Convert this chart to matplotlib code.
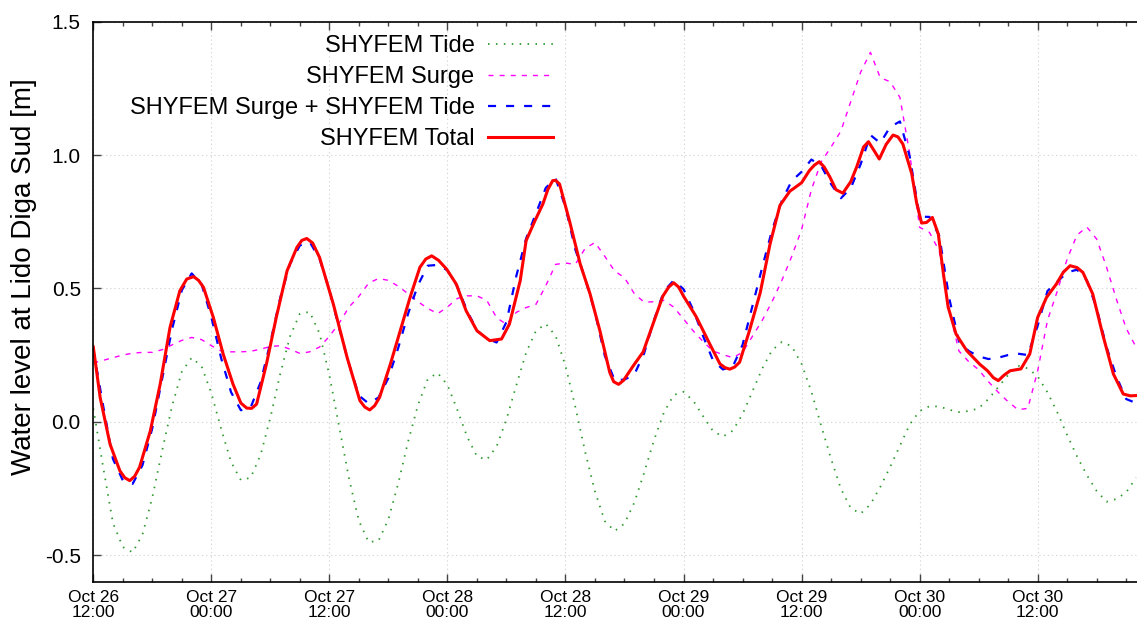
import pandas as pd
import matplotlib
matplotlib.use("Agg")
import matplotlib.pyplot as plt
import matplotlib.dates as mdates
from matplotlib.ticker import MultipleLocator, FormatStrFormatter

plt.rcParams['font.family'] = ['Liberation Sans', 'DejaVu Sans']
plt.rcParams['axes.unicode_minus'] = False
plt.rcParams['lines.scale_dashes'] = False

start = pd.Timestamp('2018-10-26 12:00')

# hourly values, starting at Oct 26 12:00
tide = [0.05, -0.17, -0.38, -0.47, -0.49, -0.423, -0.284, -0.109, 0.058, 0.188,
        0.24, 0.208, 0.107, -0.027, -0.151, -0.219, -0.21, -0.125, 0.015, 0.179,
        0.32, 0.405, 0.412, 0.331, 0.174, -0.02, -0.214, -0.372, -0.452, -0.446,
        -0.366, -0.231, -0.075, 0.062, 0.16, 0.183, 0.138, 0.045, -0.056, -0.13,
        -0.143, -0.093, 0.009, 0.136, 0.259, 0.341, 0.367, 0.322, 0.21, 0.056,
        -0.113, -0.262, -0.373, -0.41, -0.382, -0.303, -0.191, -0.069, 0.034, 0.1,
        0.112, 0.078, 0.02, -0.035, -0.056, -0.034, 0.028, 0.113, 0.199, 0.268,
        0.299, 0.283, 0.217, 0.113, -0.016, -0.139, -0.252, -0.324, -0.345, -0.31,
        -0.245, -0.17, -0.09, -0.01, 0.04, 0.058, 0.057, 0.045, 0.036, 0.04,
        0.05, 0.085, 0.13, 0.175, 0.21, 0.2, 0.17, 0.11, 0.035, -0.05,
        -0.13, -0.2, -0.26, -0.30, -0.29, -0.265, -0.21]

surge = [0.22, 0.23, 0.24, 0.25, 0.257, 0.26, 0.26, 0.27, 0.288, 0.305,
         0.316, 0.308, 0.285, 0.265, 0.262, 0.262, 0.264, 0.272, 0.282, 0.285,
         0.272, 0.256, 0.262, 0.28, 0.32, 0.37, 0.43, 0.47, 0.52, 0.537,
         0.53, 0.508, 0.48, 0.45, 0.425, 0.405, 0.43, 0.462, 0.472, 0.472,
         0.455, 0.39, 0.365, 0.41, 0.428, 0.44, 0.51, 0.59, 0.595, 0.59,
         0.65, 0.672, 0.62, 0.565, 0.54, 0.48, 0.448, 0.45, 0.455, 0.43,
         0.385, 0.34, 0.3, 0.265, 0.252, 0.24, 0.26, 0.32, 0.38, 0.45,
         0.53, 0.62, 0.72, 0.87, 0.975, 1.03, 1.09, 1.2, 1.31, 1.385,
         1.29, 1.275, 1.216, 1.004, 0.729, 0.71, 0.64, 0.42, 0.265, 0.225,
         0.195, 0.15, 0.11, 0.075, 0.045, 0.05, 0.19, 0.38, 0.49, 0.61,
         0.7, 0.73, 0.685, 0.58, 0.46, 0.35, 0.28]

# total water level, irregular sampling (hours since Oct 26 12:00)
total_hours = [0, 0.7, 1.7, 2.7, 3.2, 3.7, 4.2, 4.7, 5.8, 6.8, 7.8, 8.8, 9.5, 10.2, 10.7,
               11.2, 12.2, 13.2, 14.2, 15.0, 15.6, 16.1, 16.6, 17.6, 18.6, 19.7, 20.7,
               21.2, 21.7, 22.3, 23.0, 24.4, 25.8, 27.1, 27.6, 28.1, 28.6, 29.1, 30.2,
               31.2, 32.2, 33.2, 33.8, 34.4, 35.1, 35.9, 36.9, 37.9, 39.0, 40.3, 41.5,
               42.3, 43.4, 44.0, 44.9, 45.7, 46.2, 46.7, 47.0, 47.4, 48.4, 49.5, 50.5,
               51.5, 52.5, 52.9, 53.4, 53.9, 54.9, 55.9, 56.9, 57.9, 58.5, 59.0, 59.5,
               60.0, 61.3, 62.7, 63.7, 64.2, 64.7, 65.2, 65.7, 66.7, 67.8, 68.8, 69.8,
               70.8, 72.0, 72.8, 73.3, 73.8, 74.3, 74.9, 75.5, 76.2, 77.0, 77.6, 78.3,
               78.8, 79.4, 79.9, 80.6, 81.3, 81.8, 82.3, 83.2, 83.7, 84.2, 84.7, 85.3,
               85.9, 86.4, 86.9, 87.7, 88.8, 90.1, 90.9, 91.5, 92.0, 92.6, 93.2, 94.3,
               95.2, 96.0, 96.9, 97.9, 98.6, 99.3, 100.0, 100.6, 101.6, 102.6, 103.7,
               104.7, 105.4, 106.0]
total = [0.28, 0.09, -0.084, -0.184, -0.21, -0.221, -0.205, -0.171, -0.034, 0.141, 0.354,
         0.491, 0.535, 0.544, 0.53, 0.504, 0.391, 0.254, 0.141, 0.07, 0.051, 0.05, 0.066,
         0.216, 0.391, 0.566, 0.654, 0.68, 0.687, 0.67, 0.616, 0.441, 0.241, 0.079,
         0.055, 0.044, 0.06, 0.091, 0.216, 0.341, 0.466, 0.579, 0.61, 0.622, 0.605,
         0.573, 0.516, 0.416, 0.341, 0.304, 0.31, 0.366, 0.529, 0.679, 0.754, 0.816,
         0.87, 0.904, 0.905, 0.891, 0.754, 0.591, 0.479, 0.341, 0.185, 0.15, 0.14,
         0.155, 0.21, 0.262, 0.367, 0.471, 0.505, 0.521, 0.505, 0.471, 0.393, 0.289,
         0.217, 0.203, 0.197, 0.205, 0.223, 0.341, 0.484, 0.667, 0.811, 0.864, 0.896,
         0.942, 0.962, 0.975, 0.955, 0.916, 0.87, 0.857, 0.90, 0.955, 1.03, 1.05,
         1.015, 0.985, 1.04, 1.075, 1.068, 1.041, 0.93, 0.82, 0.745, 0.747, 0.766,
         0.704, 0.56, 0.43, 0.329, 0.266, 0.216, 0.191, 0.165, 0.154, 0.175, 0.191,
         0.198, 0.254, 0.391, 0.466, 0.516, 0.56, 0.585, 0.578, 0.56, 0.479, 0.329,
         0.179, 0.104, 0.097, 0.098]

t = start + pd.to_timedelta(range(len(tide)), unit='h')
t_total = start + pd.to_timedelta(total_hours, unit='h')
tide_s = pd.Series(tide, index=t)
surge_s = pd.Series(surge, index=t)

fig = plt.figure(figsize=(11.37, 6.23), dpi=100)
ax = fig.add_axes([0.08206, 0.06629, 0.91794, 0.89888])

ax.plot(t, tide_s, color='#2e9a2e', lw=1.3, dashes=(1.1, 4.6), label='SHYFEM Tide')
ax.plot(t, surge_s, color='#ff00ff', lw=1.0, dashes=(3.6, 4.4), label='SHYFEM Surge')
ax.plot(t, surge_s + tide_s, color='#0000ff', lw=1.6, dashes=(5.8, 7.2),
        label='SHYFEM Surge + SHYFEM Tide')
ax.plot(t_total, total, color='#ff0000', lw=2.2, solid_joinstyle='round',
        label='SHYFEM Total')

ax.set_xlim(start, start + pd.Timedelta(hours=106.1))
ax.set_ylim(-0.6, 1.5)

ax.xaxis.set_major_locator(mdates.HourLocator(byhour=[0, 12]))
ax.xaxis.set_minor_locator(mdates.HourLocator(byhour=range(0, 24, 3)))
ax.xaxis.set_major_formatter(mdates.DateFormatter('%b %d\n%H:%M'))
ax.yaxis.set_major_locator(MultipleLocator(0.5))
ax.yaxis.set_major_formatter(FormatStrFormatter('%.1f'))

ax.grid(True, which='major', color='#d8d8d8', lw=0.8, ls=(0, (1, 2)))
ax.tick_params(which='both', direction='in', top=True, right=False, color='#444444')
ax.tick_params(which='major', length=6, width=1)
ax.tick_params(which='minor', length=3, width=1)
ax.tick_params(axis='y', labelsize=15, pad=9)
ax.tick_params(axis='x', labelsize=12.5, pad=6)
for lab in ax.get_xticklabels():
    lab.set_linespacing(1.0)
for s in ['left', 'bottom', 'top']:
    ax.spines[s].set_linewidth(1.2)
ax.spines['right'].set_visible(False)

fig.text(24 / 1137, 1 - 277 / 623, 'Water level at Lido Diga Sud [m]',
         rotation=90, ha='center', va='center', fontsize=20)

ax.legend(loc='upper right', bbox_to_anchor=(0.44, 0.976), frameon=False,
          markerfirst=False, fontsize=17, handlelength=2.75, handletextpad=0.55,
          labelspacing=0.38, borderpad=0, borderaxespad=0)

fig.savefig('out.png', dpi=100)
